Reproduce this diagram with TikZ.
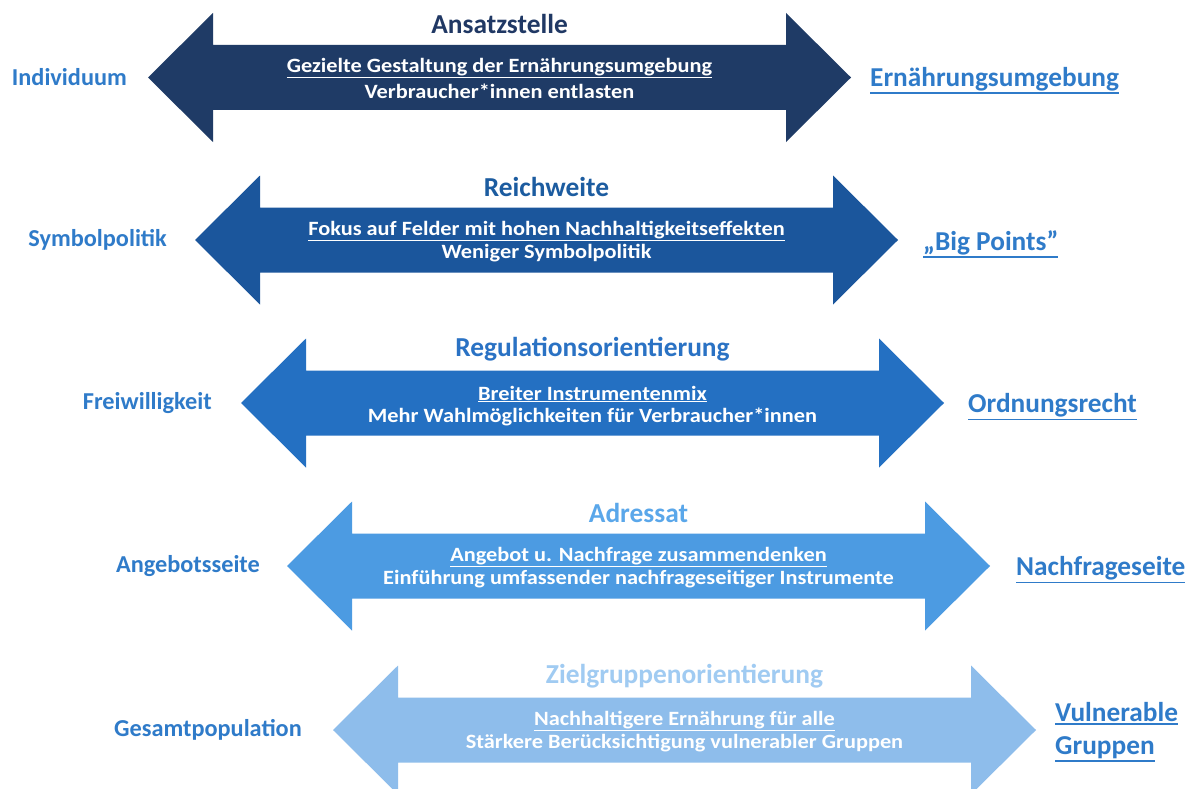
\documentclass[tikz,border=0pt]{standalone}
\usepackage{fontspec}
\setmainfont{Carlito}
% slightly widened face for the lines inside the arrows
\newfontfamily\widefont{Carlito}[FakeStretch=1.1]
\definecolor{arrowA}{HTML}{1F3B66}
\definecolor{arrowB}{HTML}{1B569C}
\definecolor{arrowC}{HTML}{2470C2}
\definecolor{arrowD}{HTML}{4C9BE2}
\definecolor{arrowE}{HTML}{8EBDEB}
\definecolor{titleA}{HTML}{203864}
\definecolor{titleB}{HTML}{1C5CA0}
\definecolor{titleC}{HTML}{2A72C4}
\definecolor{titleD}{HTML}{5AA7EA}
\definecolor{titleE}{HTML}{A0CBF2}
\definecolor{labelblue}{HTML}{2F7BC9}
% underlined word with a rule of given thickness below the descenders
\newcommand\ulword[2][1.6pt]{\vtop{\hbox{#2}\kern1.2pt\hrule height #1}}
\tikzset{
  titletext/.style={font=\bfseries\fontsize{27.4}{31}\selectfont, inner sep=0pt},
  innertext/.style={font=\widefont\bfseries\fontsize{20.3}{24}\selectfont, text=white, inner sep=0pt},
  leftlabel/.style={font=\bfseries\fontsize{24.3}{29}\selectfont, text=labelblue, inner sep=0pt, anchor=east},
  rightlabel/.style={font=\bfseries\fontsize{27.3}{32}\selectfont, text=labelblue, inner sep=0pt, anchor=west, align=left},
}
% one double arrow with its title and two lines of text
% #1 name, #2 tip x, #3 centre y, #4 arrow colour, #5 title colour, #6 title, #7 line 1, #8 line 2
\newcommand\policyrow[8]{%
  \fill[#4] (#2,#3) -- ++(65,-64.5) -- ++(0,32) -- ++(573,0) -- ++(0,-32)
    -- ++(65,64.5) -- ++(-65,64.5) -- ++(0,-32) -- ++(-573,0) -- ++(0,32) -- cycle;
  \node[titletext, text=#5] (#1-title) at ([shift={(351.5,-53.5)}]#2,#3) {#6};
  \node[innertext] (#1-one) at ([shift={(351.5,-9)}]#2,#3) {\ulword[0.9pt]{#7}};
  \node[innertext] (#1-two) at ([shift={(351.5,13.5)}]#2,#3) {#8};
}
\begin{document}
\begin{tikzpicture}[x=1pt,y=-1pt]
\useasboundingbox (0,0) rectangle (1193,789);
\fill[white] (0,0) rectangle (1193,789);

\policyrow{ansatz}{148}{77.5}{arrowA}{titleA}{Ansatzstelle}
  {Gezielte Gestaltung der Ernährungsumgebung}{Verbraucher*innen entlasten}
\policyrow{reich}{195}{240}{arrowB}{titleB}{Reichweite}
  {Fokus auf Felder mit hohen Nachhaltigkeitseffekten}{Weniger Symbolpolitik}
\policyrow{regul}{241}{403}{arrowC}{titleC}{Regulationsorientierung}
  {Breiter Instrumentenmix}{Mehr Wahlmöglichkeiten für Verbraucher*innen}
\policyrow{adress}{287}{566}{arrowD}{titleD}{Adressat}
  {Angebot u. Nachfrage zusammendenken}{Einführung umfassender nachfrageseitiger Instrumente}
\policyrow{ziel}{333}{730}{arrowE}{titleE}{Zielgruppenorientierung}
  {Nachhaltigere Ernährung für alle}{Stärkere Berücksichtigung vulnerabler Gruppen}

% pole labels on the left
\node[leftlabel] (lA) at (127,77.5) {Individuum};
\node[leftlabel] (lB) at (167,240) {Symbolpolitik};
\node[leftlabel] (lC) at (212,403) {Freiwilligkeit};
\node[leftlabel] (lD) at (260,566) {Angebotsseite};
\node[leftlabel] (lE) at (302,730) {Gesamtpopulation};

% pole labels on the right
\node[rightlabel] (rA) at (870,80.5) {\ulword{Ernährungsumgebung}};
\node[rightlabel] (rB) at (923,244) {\ulword{„Big Points”}};
\node[rightlabel] (rC) at (968,407) {\ulword{Ordnungsrecht}};
\node[rightlabel] (rD) at (1016,570) {\ulword{Nachfrageseite}};
\node[rightlabel] (rE) at (1055,732) {\ulword{Vulnerable}\\[1pt]\ulword{Gruppen}};
\end{tikzpicture}
\end{document}
